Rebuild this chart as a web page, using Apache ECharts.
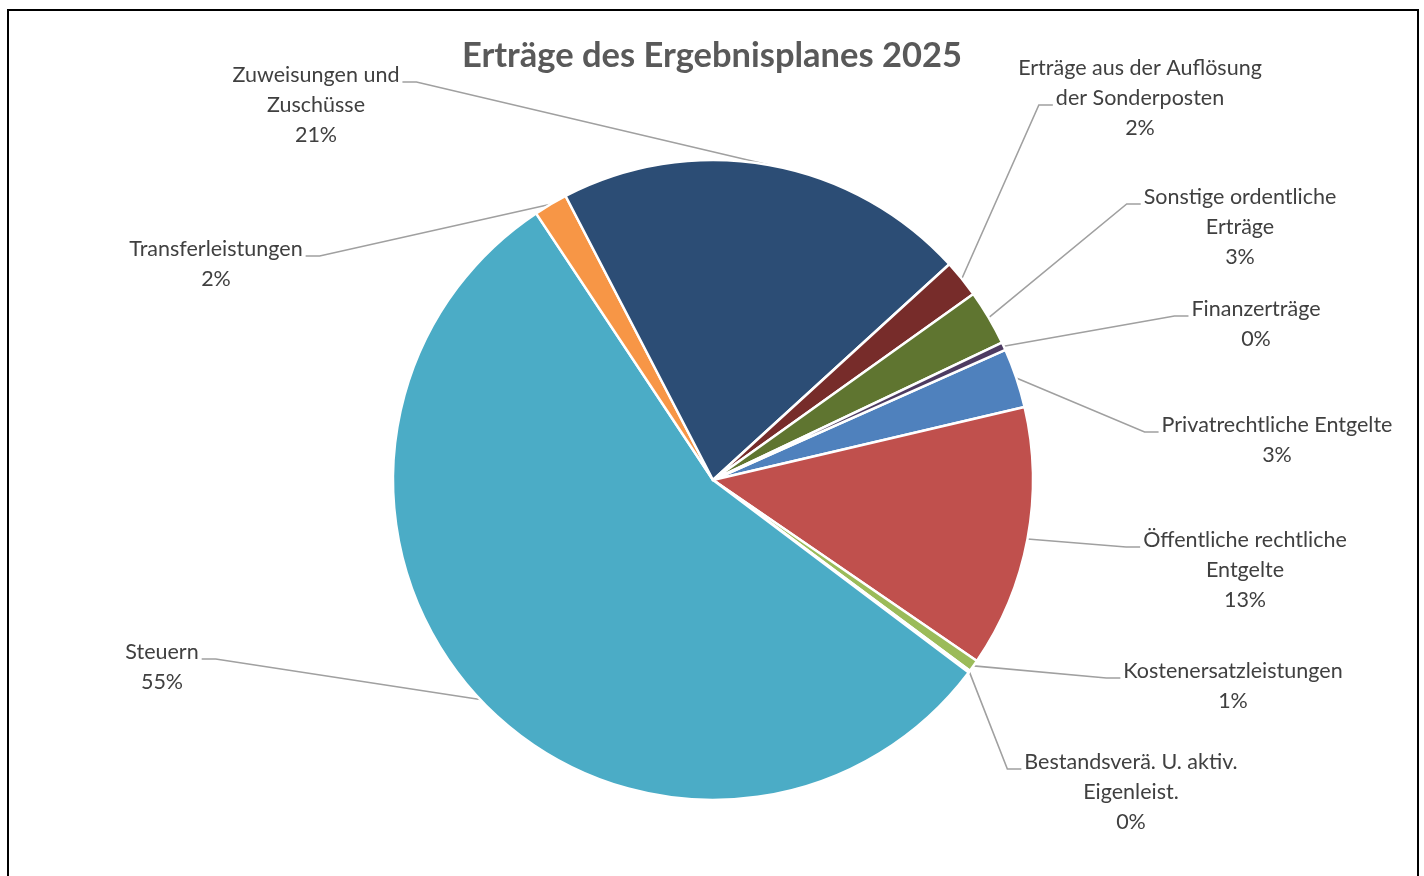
<!DOCTYPE html>
<html>
<head>
<meta charset="utf-8">
<script src="https://cdn.jsdelivr.net/npm/echarts@6/dist/echarts.min.js"></script>
<style>
  html, body { margin: 0; padding: 0; background: #fff; }
  #chart { width: 1424px; height: 876px; }
  #frame {
    position: absolute; left: 7px; top: 9px; width: 1408px; height: 900px;
    border: 2px solid #000; pointer-events: none;
  }
</style>
</head>
<body>
<div id="chart"></div>
<div id="frame"></div>
<script>
// Reihenfolge wie in der Excel-Tabelle (im Uhrzeigersinn)
const categories = [
  'Privatrechtliche Entgelte',
  'Öffentliche rechtliche Entgelte',
  'Kostenersatzleistungen',
  'Bestandsverä. U. aktiv. Eigenleist.',
  'Steuern',
  'Transferleistungen',
  'Zuweisungen und Zuschüsse',
  'Erträge aus der Auflösung der Sonderposten',
  'Sonstige ordentliche Erträge',
  'Finanzerträge'
];
// Anteile in %, aus dem Bild geschätzt
const values = [3.0, 13.2, 0.6, 0.1, 55.3, 1.7, 20.8, 1.9, 2.8, 0.4];
// Umbruch der Beschriftung wie im Original
const labelText = [
  ['Privatrechtliche Entgelte'],
  ['Öffentliche rechtliche', 'Entgelte'],
  ['Kostenersatzleistungen'],
  ['Bestandsverä. U. aktiv.', 'Eigenleist.'],
  ['Steuern'],
  ['Transferleistungen'],
  ['Zuweisungen und', 'Zuschüsse'],
  ['Erträge aus der Auflösung', 'der Sonderposten'],
  ['Sonstige ordentliche', 'Erträge'],
  ['Finanzerträge']
];
const colors = ['#4F81BD', '#C0504D', '#9BBB59', '#8064A2', '#4BACC6',
                '#F79646', '#2C4D75', '#772C2A', '#5F7530', '#4D3B62'];

// Lage der Beschriftungen: [Mitte x, Mitte y, Zeile für Führungslinie]
const labelPos = [
  [1277, 440, 0], [1245, 570, 0], [1233, 686, 0], [1131, 792, 0],
  [162, 667, 0], [216, 264, 0], [316, 105, 0], [1140, 98, 1],
  [1240, 227, 0], [1256, 324, 0]
];

const FONT = 'Lato, "Open Sans", sans-serif';
const FS = 21.5;
const LINE_H = 30;
const cx = 713, cy = 480;

const ctx = document.createElement('canvas').getContext('2d');
ctx.font = FS + 'px ' + FONT;
const textW = s => ctx.measureText(s).width;

const chart = echarts.init(document.getElementById('chart'));

const pieData = categories.map((name, i) => ({
  name: name,
  value: values[i],
  itemStyle: { color: colors[i] }
}));

const option = {
  animation: false,
  title: {
    text: 'Erträge des Ergebnisplanes 2025',
    left: 'center',
    top: 33,
    textStyle: { fontFamily: FONT, fontSize: 34.5, fontWeight: 'bold', color: '#595959' }
  },
  series: [{
    type: 'pie',
    center: [cx, cy],
    radius: 320,
    startAngle: 24,
    clockwise: true,
    avoidLabelOverlap: false,
    data: pieData,
    itemStyle: { borderColor: '#fff', borderWidth: 2.5 },
    label: {
      show: true,
      position: 'outside',
      fontFamily: FONT,
      fontSize: FS,
      lineHeight: LINE_H,
      color: '#404040',
      align: 'center',
      formatter: p => labelText[p.dataIndex].join('\n') + '\n' + Math.round(p.percent) + '%'
    },
    labelLine: {
      show: true,
      length: 20,
      length2: 20,
      lineStyle: { color: '#A0A0A0', width: 1.6 }
    },
    labelLayout: function (params) {
      const i = params.dataIndex;
      const pos = labelPos[i];
      const lines = labelText[i].length + 1;
      const blockTop = pos[1] - lines * LINE_H / 2;
      const ln = pos[2];
      const w = textW(labelText[i][ln]);
      const ay = blockTop + LINE_H * (ln + 0.5) + 7;
      const start = params.labelLinePoints ? params.labelLinePoints[0] : [cx, cy];
      let pts;
      if (pos[0] > cx) {
        const left = pos[0] - w / 2;
        pts = [start, [left - 17, ay], [left - 3, ay]];
      } else {
        const right = pos[0] + w / 2;
        pts = [start, [right + 17, ay], [right + 3, ay]];
      }
      return {
        x: pos[0],
        y: pos[1],
        align: 'center',
        verticalAlign: 'middle',
        labelLinePoints: pts
      };
    }
  }]
};

chart.setOption(option);
</script>
</body>
</html>
